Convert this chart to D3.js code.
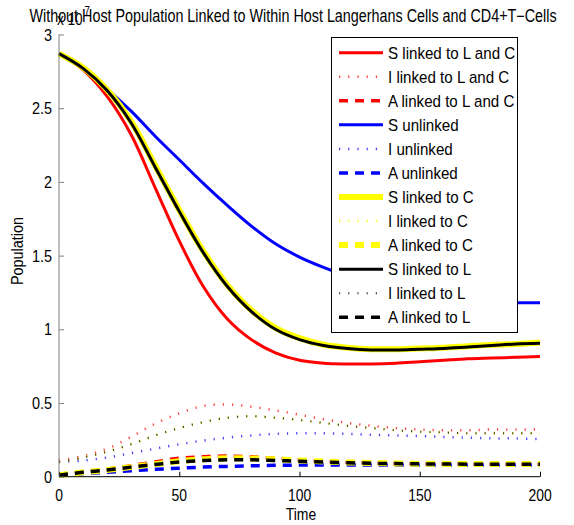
<!DOCTYPE html>
<html><head><meta charset="utf-8">
<script src="https://cdn.jsdelivr.net/npm/d3@7"></script>
<style>body{margin:0;background:#fff}svg{display:block}text{font-family:"Liberation Sans",Arial,sans-serif;fill:#000}</style>
</head><body><svg id="c" width="574" height="525"></svg>
<script>
const time = [0,10,20,30,40,50,60,70,80,90,100,110,120,130,140,150,160,170,180,190,200];
const S_LC = [2.87,2.76,2.58,2.32,1.96,1.60,1.29,1.07,0.93,0.84,0.79,0.77,0.765,0.765,0.77,0.78,0.79,0.80,0.805,0.81,0.815];
const I_LC = [0.11,0.14,0.19,0.27,0.36,0.43,0.48,0.49,0.475,0.45,0.42,0.39,0.365,0.345,0.33,0.32,0.315,0.315,0.32,0.32,0.32];
const A_LC = [0.01,0.03,0.05,0.075,0.10,0.125,0.135,0.14,0.135,0.125,0.115,0.105,0.097,0.092,0.089,0.087,0.086,0.085,0.085,0.085,0.085];
const S_U = [2.87,2.77,2.63,2.48,2.31,2.15,1.99,1.84,1.70,1.58,1.49,1.42,1.36,1.31,1.26,1.23,1.205,1.19,1.185,1.18,1.18];
const I_U = [0.10,0.11,0.13,0.16,0.19,0.22,0.245,0.265,0.28,0.29,0.295,0.295,0.29,0.285,0.28,0.275,0.27,0.265,0.26,0.26,0.255];
const A_U = [0.01,0.02,0.03,0.04,0.05,0.058,0.065,0.07,0.074,0.077,0.079,0.08,0.08,0.08,0.08,0.08,0.08,0.08,0.08,0.08,0.08];
const S_C = [2.87,2.775,2.625,2.41,2.11,1.81,1.53,1.30,1.13,1.01,0.94,0.895,0.875,0.865,0.865,0.87,0.875,0.885,0.895,0.90,0.91];
const I_C = [0.10,0.13,0.17,0.22,0.28,0.33,0.37,0.40,0.41,0.40,0.385,0.365,0.345,0.33,0.315,0.305,0.30,0.295,0.295,0.295,0.295];
const A_C = [0.01,0.03,0.045,0.065,0.085,0.105,0.118,0.125,0.124,0.118,0.11,0.103,0.097,0.093,0.09,0.088,0.087,0.086,0.086,0.086,0.086];
const S_L = [2.87,2.77,2.62,2.40,2.10,1.80,1.52,1.29,1.12,1.00,0.93,0.89,0.87,0.86,0.86,0.865,0.87,0.88,0.89,0.90,0.905];
const I_L = [0.10,0.13,0.17,0.22,0.28,0.33,0.37,0.40,0.41,0.40,0.385,0.365,0.345,0.33,0.315,0.305,0.30,0.295,0.295,0.295,0.295];
const A_L = [0.01,0.03,0.045,0.065,0.083,0.10,0.11,0.115,0.115,0.11,0.105,0.10,0.095,0.091,0.089,0.087,0.086,0.085,0.085,0.085,0.085];
const xTicks = [0,50,100,150,200];
const yTicks = [0,0.5,1,1.5,2,2.5,3];
const labels = ["S linked to L and C","I linked to L and C","A linked to L and C","S unlinked","I unlinked","A unlinked","S linked to C","I linked to C","A linked to C","S linked to L","I linked to L","A linked to L"];

const styles = {S:{w:3,dash:null,op:1},I:{w:2.5,dash:"1.2,8",op:0.75},A:{w:3.5,dash:"9,7",op:1}};
const colors = {LC:"#ff0000",U:"#0000ff",C:"#ffff00",L:"#000000"};
const series = [
 {d:S_LC,t:"S",g:"LC"},{d:I_LC,t:"I",g:"LC"},{d:A_LC,t:"A",g:"LC"},
 {d:S_U,t:"S",g:"U"},{d:I_U,t:"I",g:"U"},{d:A_U,t:"A",g:"U"},
 {d:S_C,t:"S",g:"C",w:6},{d:I_C,t:"I",g:"C",w:3},{d:A_C,t:"A",g:"C",w:6},
 {d:S_L,t:"S",g:"L"},{d:I_L,t:"I",g:"L",w:2},{d:A_L,t:"A",g:"L"}
];
series.forEach((s,i)=>s.label=labels[i]);

const svg = d3.select("#c");
const x = d3.scaleLinear().domain([0,200]).range([59,540]);
const y = d3.scaleLinear().domain([0,3]).range([476.7,34.5]);
const line = d3.line().x((d,i)=>x(time[i])).y(d=>y(d)).curve(d3.curveCatmullRom.alpha(0.5));

const plot = svg.append("g");
series.forEach(s=>{
  const st = styles[s.t];
  plot.append("path").attr("d",line(s.d)).attr("fill","none")
    .attr("stroke",colors[s.g]).attr("stroke-width",s.w||st.w)
    .attr("stroke-dasharray",st.dash).attr("stroke-opacity",st.op);
});

function txt(parent,x0,y0,str,size,sx,anchor,rot){
  return parent.append("text")
    .attr("transform",`translate(${x0},${y0})`+(rot?` rotate(${rot})`:"")+` scale(${sx},1)`)
    .attr("font-size",size).attr("text-anchor",anchor||"start").text(str);
}

// axes
const xa = svg.append("g").attr("transform","translate(0,476.7)")
  .call(d3.axisBottom(x).tickValues(xTicks).tickSize(-5).tickFormat(()=>""));
xa.select(".domain").attr("stroke","#000").attr("d","M59,0H540");
xa.selectAll(".tick line").attr("stroke","#000");
xa.selectAll(".tick text").remove();
xTicks.forEach(v=>txt(svg,x(v),501,String(v),17,0.82,"middle"));

const ya = svg.append("g").attr("transform","translate(59,0)")
  .call(d3.axisLeft(y).tickValues(yTicks).tickSize(-5).tickFormat(()=>""));
ya.select(".domain").attr("stroke","#808080").attr("d","M0,476.7V34.5");
ya.selectAll(".tick line").attr("stroke","#808080");
ya.selectAll(".tick text").remove();
yTicks.forEach(v=>txt(svg,52,y(v)+6,String(v),17,0.85,"end"));

txt(svg,301,520,"Time",17,0.82,"middle");
txt(svg,23,251,"Population",17,0.85,"middle",-90);
txt(svg,57,25,"x 10",17,0.8,"start");
txt(svg,84.5,15,"7",12,0.8,"start");
txt(svg,293,22,"Without Host Population Linked to Within Host Langerhans Cells and CD4+T\u2212Cells",17.5,0.82,"middle");

// legend
const lg = svg.append("g");
lg.append("rect").attr("x",331.5).attr("y",37.5).attr("width",186).attr("height",295).attr("fill","#fff").attr("stroke","#000").attr("stroke-width",1);
series.forEach((s,i)=>{
  const yy = 52.7 + i*24.05;
  const st = styles[s.t];
  lg.append("line").attr("x1",339).attr("x2",383).attr("y1",yy).attr("y2",yy)
    .attr("stroke",colors[s.g]).attr("stroke-width",s.w||st.w)
    .attr("stroke-dasharray",st.dash).attr("stroke-opacity",st.op);
  txt(lg,388,yy+6,s.label,17,0.89,"start");
});
</script></body></html>
